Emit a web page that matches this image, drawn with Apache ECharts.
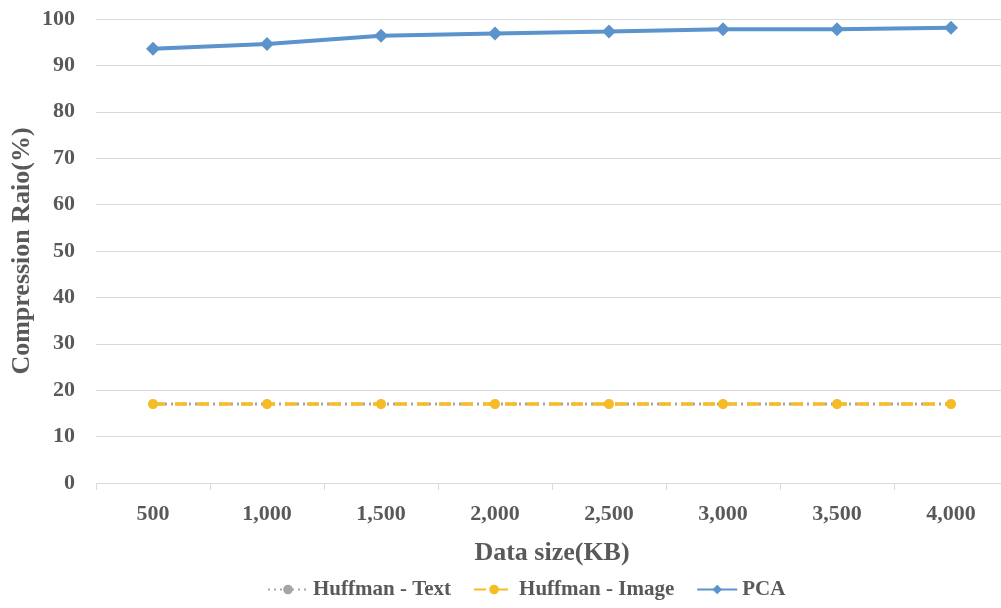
<!DOCTYPE html>
<html><head><meta charset="utf-8">
<script src="https://cdn.jsdelivr.net/npm/echarts@6/dist/echarts.min.js"></script>
<style>html,body{margin:0;padding:0;background:#fff}#c{width:1001px;height:608px}</style>
</head><body><div id="c"></div>
<script>
const categories = ['500','1,000','1,500','2,000','2,500','3,000','3,500','4,000'];
const huffmanText = [17, 17, 17, 17, 17, 17, 17, 17];
const huffmanImage = [17, 17, 17, 17, 17, 17, 17, 17];
const pca = [93.6, 94.6, 96.4, 96.9, 97.3, 97.8, 97.8, 98.1];
const yTicks = [0,10,20,30,40,50,60,70,80,90,100];

const font = 'Liberation Serif';
const txt = '#595959';
const chart = echarts.init(document.getElementById('c'));
chart.setOption({
  animation: false,
  grid: {left: 96, right: -7, top: 19, bottom: 125, outerBoundsMode: 'none', containLabel: false},
  legend: {
    bottom: 3, left: 262, itemGap: 22, itemWidth: 40, itemHeight: 12,
    textStyle: {fontFamily: font, fontWeight: 'bold', fontSize: 21, color: txt},
    data: ['Huffman - Text','Huffman - Image','PCA']
  },
  xAxis: {
    type: 'category', data: categories, boundaryGap: true,
    name: 'Data size(KB)', nameLocation: 'middle', nameGap: 57,
    nameTextStyle: {fontFamily: font, fontWeight: 'bold', fontSize: 26, color: txt},
    axisLine: {lineStyle: {color: '#D9D9D9', width: 1}},
    axisTick: {show: true, length: 7, lineStyle: {color: '#D9D9D9'}},
    axisLabel: {fontFamily: font, fontWeight: 'bold', fontSize: 22, color: txt, margin: 20}
  },
  yAxis: {
    type: 'value', min: 0, max: 100, interval: 10,
    name: 'Compression Raio(%)', nameLocation: 'middle', nameGap: 61, nameRotate: 90,
    nameMoveOverlap: false,
    nameTextStyle: {fontFamily: font, fontWeight: 'bold', fontSize: 26, color: txt},
    axisLine: {show: false}, axisTick: {show: false},
    splitLine: {lineStyle: {color: '#D9D9D9', width: 1}},
    axisLabel: {fontFamily: font, fontWeight: 'bold', fontSize: 22, color: txt, margin: 21,
      formatter: v => yTicks.includes(v) ? String(v) : ''}
  },
  series: [
    {name: 'Huffman - Text', type: 'line', data: huffmanText, symbol: 'circle', symbolSize: 9,
      itemStyle: {color: '#A5A5A5'}, lineStyle: {color: '#A5A5A5', width: 3, type: [2, 4]}},
    {name: 'Huffman - Image', type: 'line', data: huffmanImage, symbol: 'circle', symbolSize: 10,
      itemStyle: {color: '#F6BC26'}, lineStyle: {color: '#F6BC26', width: 3.5, type: [12, 10]}},
    {name: 'PCA', type: 'line', data: pca, symbol: 'diamond', symbolSize: 14,
      itemStyle: {color: '#5B93CC'}, lineStyle: {color: '#5B93CC', width: 4}}
  ]
});
</script>
</body></html>
